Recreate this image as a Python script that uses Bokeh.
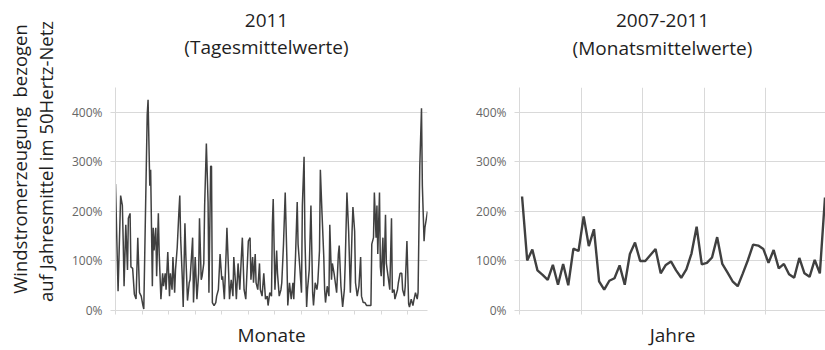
import math

from bokeh.plotting import figure
from bokeh.layouts import row, column
from bokeh.models import Range1d, FixedTicker
from bokeh.core.properties import value
from bokeh.embed import file_html
from bokeh.resources import INLINE

FONT = "Open Sans"
INK = "#404040"
GRID = "#d9d9d9"
TEXT = "#1f1f1f"
TICK_TEXT = "#666666"

# Wind generation 2011, daily means, % of annual mean (day of year, value)
daily_day = [
    0, 3, 6, 8, 9, 10, 12, 14, 15, 17, 18, 20, 22, 24, 26, 28, 30, 32, 33,
    37, 38, 40, 41, 43, 44, 45, 47, 48, 50, 51, 53, 55, 56, 58, 59, 61, 63,
    64, 66, 67, 69, 70, 72, 74, 75, 76, 78, 79, 81, 82, 84, 86, 87, 90, 91,
    93, 95, 97, 98, 100, 101, 103, 104, 106, 108, 109, 111, 112, 113, 115,
    117, 118, 120, 122, 124, 125, 127, 129, 130, 132, 133, 135, 137, 138,
    140, 141, 143, 145, 147, 148, 150, 152, 153, 155, 157, 158, 160, 161,
    163, 164, 166, 168, 169, 171, 173, 175, 177, 178, 180, 182, 183, 184,
    186, 188, 189, 191, 193, 194, 196, 198, 200, 201, 203, 205, 207, 208,
    210, 212, 213, 215, 217, 218, 220, 221, 223, 224, 226, 228, 230, 231,
    233, 235, 236, 238, 239, 241, 243, 244, 245, 247, 249, 250, 252, 253,
    255, 256, 258, 260, 261, 263, 265, 267, 268, 270, 272, 274, 276, 277,
    279, 280, 282, 284, 286, 287, 289, 291, 293, 296, 298, 299, 301, 302,
    304, 305, 306, 308, 309, 310, 312, 313, 315, 316, 318, 320, 322, 323,
    325, 326, 329, 330, 332, 334, 335, 337, 338, 340, 342, 343, 345, 347,
    348, 350, 352, 353, 355, 357, 358, 360, 361, 364,
]
daily_pct = [
    255, 39, 232, 212, 140, 49, 173, 82, 186, 196, 88, 85, 33, 23, 147, 36, 29, 10, 3,
    395, 425, 252, 284, 49, 167, 121, 167, 69, 196, 114, 23, 75, 49, 75, 42, 118, 29,
    75, 42, 108, 36, 82, 127, 200, 232, 147, 62, 7, 176, 114, 20, 56, 62, 147, 16,
    108, 23, 75, 186, 62, 69, 95, 212, 337, 219, 36, 291, 291, 16, 10,
    16, 29, 42, 114, 62, 69, 23, 114, 167, 75, 23, 62, 29, 108,
    56, 23, 95, 42, 114, 147, 42, 23, 62, 140, 147, 62, 108, 56,
    114, 56, 42, 95, 42, 29, 75, 23, 29, 10, 36, 29, 173, 225,
    42, 121, 75, 29, 42, 56, 134, 238, 101, 10, 56, 23, 56, 23,
    108, 219, 134, 88, 36, 212, 310, 147, 7, 42, 82, 212, 36, 10,
    56, 42, 56, 121, 284, 193, 108, 42, 16, 49, 29, 173, 62, 95,
    75, 62, 36, 114, 131, 49, 7, 42, 95, 238, 160, 36, 160, 209,
    160, 56, 29, 49, 108, 29, 16, 16, 10, 10, 10, 134, 147, 238,
    147, 212, 114, 238, 88, 69, 147, 49, 193, 95, 69, 42, 186, 36,
    42, 23, 42, 56, 75, 75, 42, 29, 49, 140, 13, 7, 23, 10,
    20, 36, 23, 36, 291, 408, 252, 140, 167, 200,
]
# Month boundaries on the daily axis
month_ticks = [0, 31, 62, 93, 124, 155, 186, 217, 248, 279, 310, 341]

# Wind generation 2007-2011, monthly means, % of annual mean
monthly_pct = [
    230, 101, 123, 81, 72, 62, 92, 52, 94, 51, 125, 120,
    190, 130, 164, 59, 42, 60, 65, 91, 52, 114, 137, 100,
    100, 112, 124, 75, 92, 99, 81, 66, 83, 115, 169, 93,
    96, 107, 148, 94, 77, 59, 49, 75, 102, 133, 131, 124,
    96, 122, 85, 94, 73, 66, 106, 75, 68, 102, 75, 228,
]
month_index = list(range(len(monthly_pct)))
year_bounds = [-0.5, 11.5, 23.5, 35.5, 47.5]

pct_ticks = [0, 100, 200, 300, 400]
pct_labels = {0: "0%", 100: "100%", 200: "200%", 300: "300%", 400: "400%"}

# Panel headings and the shared y-axis caption
heading_lines = ["2011", "(Tagesmittelwerte)", "2007-2011", "(Monatsmittelwerte)"]
heading_x = [206, 206, 602, 602]
heading_y = [20, 46, 19.5, 47]
caption_lines = ["Windstromerzeugung\u00a0 bezogen", "auf Jahresmittel im 50Hertz-Netz"]
caption_x = [19, 45]
caption_y = [158.5, 161]


def text_strip(width, height):
    # A bare figure whose data units are pixels, y growing downwards
    p = figure(width=width, height=height, x_range=Range1d(0, width),
               y_range=Range1d(height, 0), output_backend="svg", toolbar_location=None,
               x_axis_location=None, y_axis_location=None, min_border=0)
    p.outline_line_color = None
    p.grid.visible = False
    return p


def style_axes(p, xticks, grid_x):
    p.outline_line_color = None
    p.background_fill_color = "white"
    p.border_fill_color = "white"
    p.ygrid.ticker = FixedTicker(ticks=[100, 200, 300, 400])
    p.ygrid.grid_line_color = GRID
    p.ygrid.grid_line_width = 1
    if grid_x:
        p.xgrid.ticker = FixedTicker(ticks=grid_x)
        p.xgrid.grid_line_color = GRID
        p.xgrid.grid_line_width = 1
    else:
        p.xgrid.visible = False

    ya = p.yaxis[0]
    ya.ticker = FixedTicker(ticks=pct_ticks)
    ya.major_label_overrides = pct_labels
    ya.axis_line_color = GRID
    ya.major_tick_line_color = GRID
    ya.major_tick_out = 5
    ya.major_tick_in = 0
    ya.minor_tick_line_color = None
    ya.major_label_standoff = 8
    ya.major_label_text_font = FONT
    ya.major_label_text_font_size = "12px"
    ya.major_label_text_color = TICK_TEXT

    xa = p.xaxis[0]
    xa.ticker = FixedTicker(ticks=xticks)
    xa.major_label_overrides = {t: "" for t in xticks}
    xa.axis_line_color = GRID
    xa.major_tick_line_color = GRID
    xa.major_tick_out = 4
    xa.major_tick_in = 0
    xa.minor_tick_line_color = None
    xa.major_label_standoff = 0
    xa.axis_label_text_font = FONT
    xa.axis_label_text_font_size = "19px"
    xa.axis_label_text_font_style = "normal"
    xa.axis_label_text_color = TEXT
    xa.axis_label_standoff = 7


# Caption strip on the far left
cap = text_strip(60, 350)
cap.text(x=caption_x, y=caption_y, text=caption_lines, angle=math.pi / 2,
         text_font=value(FONT), text_font_size=value("18.5px"), text_color=TEXT,
         text_align="center", text_baseline="middle")

# Heading strip above both panels
head = text_strip(765, 60)
head.text(x=heading_x, y=heading_y, text=heading_lines,
          text_font=value(FONT), text_font_size=value("19px"), text_color=TEXT,
          text_align="center", text_baseline="middle")

# Left panel: daily means 2011
p1 = figure(width=380, height=290, x_range=Range1d(0, 364), y_range=Range1d(0, 450),
            output_backend="svg", toolbar_location=None,
            min_border_left=55, min_border_right=13, min_border_top=27, min_border_bottom=35)
style_axes(p1, month_ticks, None)
p1.xaxis[0].axis_label = "Monate"
p1.line(daily_day, daily_pct, line_color=INK, line_width=1.5)

# Right panel: monthly means 2007-2011
p2 = figure(width=385, height=290, x_range=Range1d(-0.5, 59.1), y_range=Range1d(0, 450),
            output_backend="svg", toolbar_location=None,
            min_border_left=79, min_border_right=0, min_border_top=26, min_border_bottom=33)
style_axes(p2, year_bounds, year_bounds[1:])
p2.xaxis[0].axis_label = "Jahre"
p2.line(month_index, monthly_pct, line_color=INK, line_width=2.4)

layout = row(cap, column(head, row(p1, p2)))
open("out.html", "w").write(file_html(layout, INLINE))
